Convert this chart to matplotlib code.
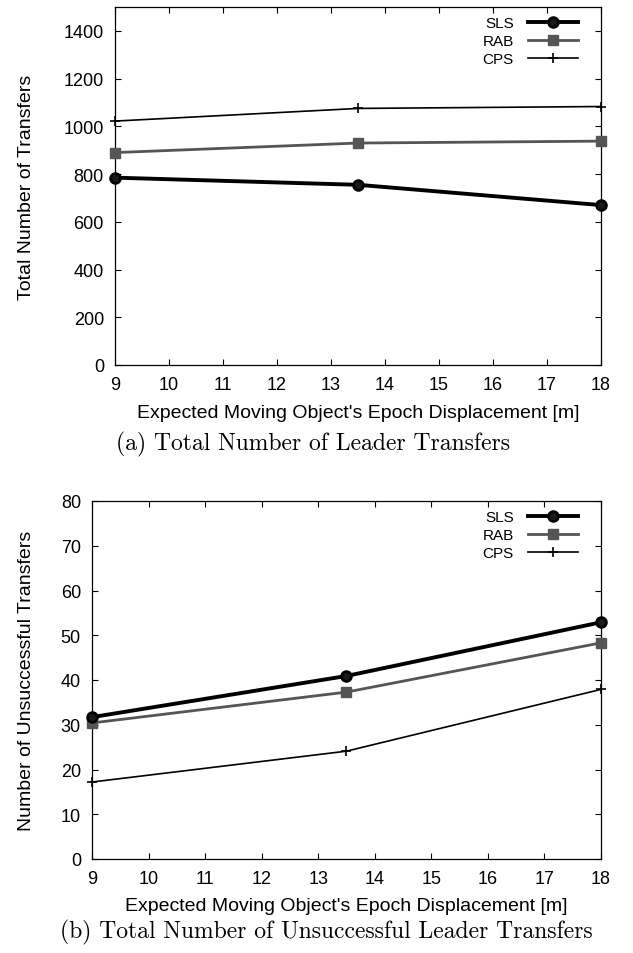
import matplotlib
matplotlib.use('Agg')
import matplotlib.pyplot as plt

x = [9, 13.5, 18]

# (a) total number of leader transfers
sls_total = [785, 755, 670]
rab_total = [890, 930, 938]
cps_total = [1022, 1075, 1083]

# (b) unsuccessful transfers
sls_fail = [31.7, 40.9, 52.9]
rab_fail = [30.4, 37.3, 48.3]
cps_fail = [17.2, 24.1, 37.9]

series_names = ['SLS', 'RAB', 'CPS']

plt.rcParams['font.family'] = ['Liberation Sans', 'DejaVu Sans']

W, H = 633, 954
fig = plt.figure(figsize=(W / 100, H / 100), dpi=100)


def box(l, t, r, b):
    return [l / W, 1 - b / H, (r - l) / W, (b - t) / H]


def style(ax, ymax, ylabel, left, height):
    ax.set_xlim(9, 18)
    ax.set_ylim(0, ymax)
    ax.set_xticks(range(9, 19))
    ax.tick_params(direction='in', top=True, right=True, length=4, width=0.8,
                   labelsize=13, pad=8)
    for s in ax.spines.values():
        s.set_linewidth(0.9)
    xl = ax.set_xlabel("Expected Moving Object's Epoch Displacement [m]", fontsize=14)
    xl.set_va('center')
    ax.xaxis.set_label_coords(0.5, -47 / height)
    yl = ax.set_ylabel(ylabel, fontsize=14)
    yl.set_va('center')
    ax.yaxis.set_label_coords((27 - left) / (601 - left), 0.5)


def draw(ax, sls, rab, cps, legend_top):
    ax.plot(x, sls, color='black', lw=2.8, marker='o', ms=7, mfc='#1a1a1a',
            mec='black', mew=2, label=series_names[0], clip_on=False, zorder=5)
    ax.plot(x, rab, color='#555555', lw=2.0, marker='s', ms=7, mfc='#555555',
            mec='#555555', label=series_names[1], clip_on=False, zorder=4)
    ax.plot(x, cps, color='black', lw=1.2, marker='+', ms=7, mew=1.2,
            label=series_names[2], clip_on=False, zorder=3)
    ax.legend(loc='upper right', frameon=False, markerfirst=False, fontsize=11,
              handlelength=3.3, labelspacing=0.27, handletextpad=0.9,
              borderpad=0, borderaxespad=0,
              bbox_to_anchor=(578 / W, 1 - legend_top / H),
              bbox_transform=fig.transFigure)


ax1 = fig.add_axes(box(115, 8, 601, 366))
draw(ax1, sls_total, rab_total, cps_total, 17)
style(ax1, 1500, 'Total Number of Transfers', 115, 358)
ax1.set_yticks(range(0, 1401, 200))

ax2 = fig.add_axes(box(92, 502, 601, 860))
draw(ax2, sls_fail, rab_fail, cps_fail, 511)
style(ax2, 80, 'Number of Unsuccessful Transfers', 92, 358)
ax2.set_yticks(range(0, 81, 10))

fig.text(313 / W, 1 - 444 / H, '(a) Total Number of Leader Transfers',
         family='cmr10', fontsize=17, ha='center', va='center')
fig.text(326 / W, 1 - 932 / H, '(b) Total Number of Unsuccessful Leader Transfers',
         family='cmr10', fontsize=17, ha='center', va='center')

fig.savefig('out.png', dpi=100)
